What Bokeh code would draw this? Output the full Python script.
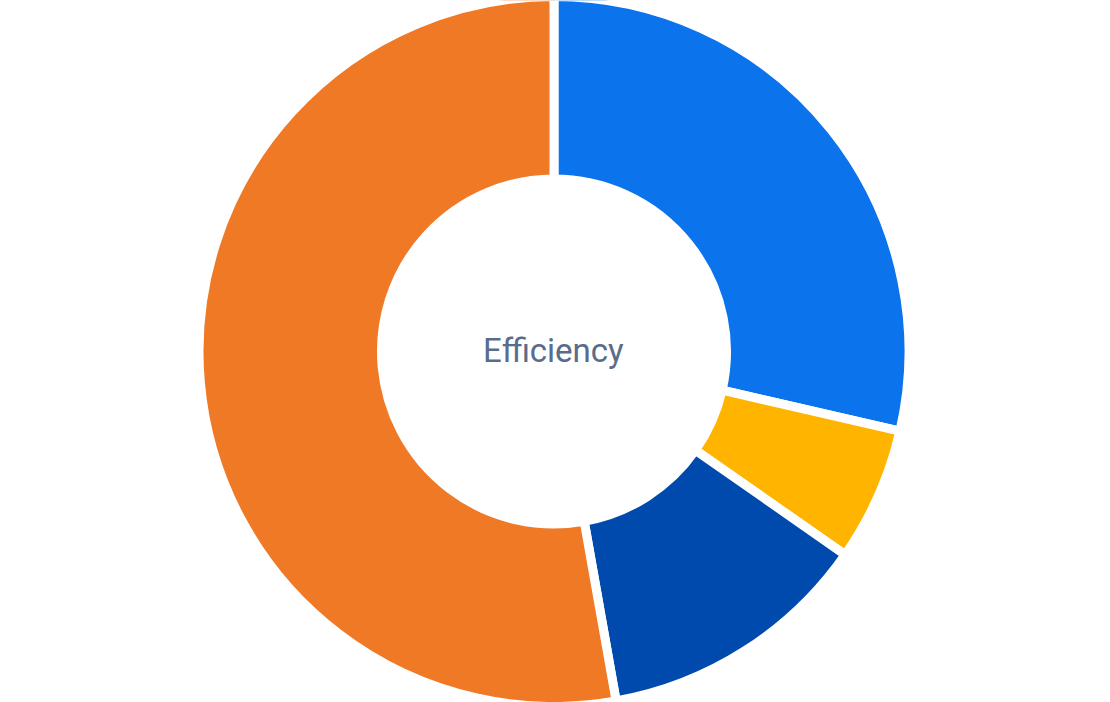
import numpy as np
from bokeh.plotting import figure
from bokeh.models import ColumnDataSource
from bokeh.core.properties import value
from bokeh.embed import file_html
from bokeh.resources import INLINE

categories = ["Blue", "Yellow", "Dark Blue", "Orange"]
values = [28.6, 6.1, 12.5, 52.8]
colors = ["#0b73ec", "#ffb400", "#014aad", "#f07926"]
center_label = "Efficiency"

W, H = 1110, 702
cx, cy = 553.5, H - 351.0

vals = np.array(values, dtype=float)
frac = vals / vals.sum()
cum = np.concatenate([[0.0], np.cumsum(frac)])
start = np.pi / 2 - cum[:-1] * 2 * np.pi
end = np.pi / 2 - cum[1:] * 2 * np.pi

src = ColumnDataSource(dict(cat=categories, val=values, color=colors,
                            start=start, end=end))

p = figure(width=W, height=H, x_range=(0, W), y_range=(0, H),
           output_backend="svg", toolbar_location=None, min_border=0)
p.axis.visible = False
p.grid.visible = False
p.outline_line_color = None
p.background_fill_color = "white"
p.border_fill_color = "white"

p.annular_wedge(x=cx, y=cy, inner_radius=172.5, outer_radius=355,
                start_angle="start", end_angle="end", direction="clock",
                fill_color="color", line_color="white", line_width=9,
                source=src)

p.text(x=[552.8], y=[H - 349.5], text=[center_label],
       text_font=value("Roboto"), text_font_size="33px",
       text_color="#596c8b", text_align="center",
       text_baseline="alphabetic")

open("out.html", "w").write(file_html(p, INLINE))
